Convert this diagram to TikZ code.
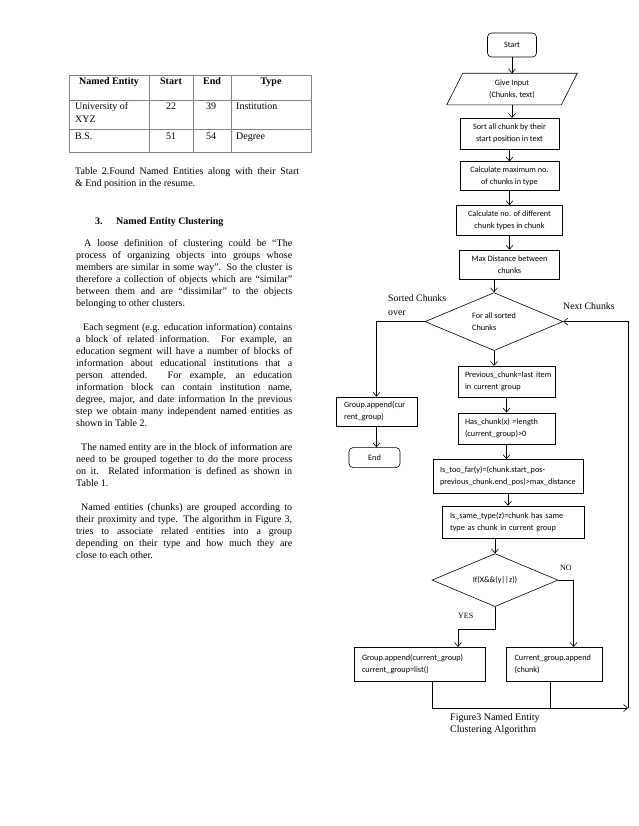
\documentclass[tikz,border=0pt]{standalone}
\usepackage{fontspec}
\setmainfont{Liberation Serif}
\newfontfamily\chartfont{Carlito}
\usetikzlibrary{positioning,shapes.geometric,arrows.meta}
\newcommand{\rulecol}{black!50}
\newcommand{\chartsize}{\fontsize{8.2}{12}\selectfont}

\begin{document}
\begin{tikzpicture}[x=1pt,y=-1pt,
    box/.style={draw, rectangle, line width=0.6pt, inner sep=0pt, font=\chartfont\chartsize, align=center},
    lbox/.style={box, align=left, inner xsep=7pt, inner ysep=0pt},
    term/.style={box, rounded corners=4pt},
    decision/.style={draw, diamond, line width=0.6pt, inner sep=0pt, aspect=2.4, font=\chartfont\chartsize, align=center},
    arr/.style={line width=0.6pt, -{Straight Barb[length=4pt,width=7pt]}},
    tag/.style={inner sep=0pt, anchor=base west, font=\fontsize{8}{10}\selectfont},
    lbl/.style={inner sep=0pt, anchor=base west, align=left, font=\fontsize{9.8}{14}\selectfont},
    cell/.style={inner sep=0pt, anchor=base, font=\fontsize{10}{12}\selectfont},
    head/.style={cell, font=\fontsize{10}{12}\selectfont\bfseries},
    para/.style={inner sep=0pt, anchor=base west, align=justify, font=\fontsize{10}{12}\selectfont}]

\useasboundingbox (0,0) rectangle (638,826);

% table 2
\draw[draw=\rulecol, line width=0.8pt] (69,75) rectangle (311,152);
\draw[draw=\rulecol, line width=0.8pt] (69,100) -- (311,100) (69,129) -- (311,129);
\foreach \cx in {149,193,231}
  \draw[draw=\rulecol, line width=0.8pt] (\cx,75) -- (\cx,152);

\node[head] (hname) at (109,85) {Named Entity};
\node[head] (hstart) at (171,85) {Start};
\node[head] (hend) at (212,85) {End};
\node[head] (htype) at (271,85) {Type};
\node[cell, anchor=base west] (uni) at (75,110) {University of};
\node[cell, anchor=base west] (xyz) at (75,122.5) {XYZ};
\node[cell] (s1) at (171,110) {22};
\node[cell] (e1) at (211,110) {39};
\node[cell, anchor=base west] (t1) at (236,110) {Institution};
\node[cell, anchor=base west] (bs) at (75,140) {B.S.};
\node[cell] (s2) at (171,140) {51};
\node[cell] (e2) at (211,140) {54};
\node[cell, anchor=base west] (t2) at (236,140) {Degree};

\node[para, text width=224pt] (tabcap) at (75,175)
  {Table 2.Found Named Entities along with their Start\linebreak
   \& End position in the resume.};

% section 3
\node[head, anchor=base west] (secno) at (95,224.5) {3.};
\node[head, anchor=base west] (sectitle) at (116,224.5) {Named Entity Clustering};

\node[para, text width=216pt] (body) at (76,246) {%
\hspace*{8pt}A loose definition of clustering could be “The\linebreak
process of organizing objects into groups whose\linebreak
members are similar in some way”. So the cluster is\linebreak
therefore a collection of objects which are “similar”\linebreak
between them and are “dissimilar” to the objects\linebreak
belonging to other clusters.\par\vspace{12pt}
\hspace*{7pt}Each segment (e.g. education information) contains\linebreak
a block of related information.  For example, an\linebreak
education segment will have a number of blocks of\linebreak
information about educational institutions that a\linebreak
person attended.  For example, an education\linebreak
information block can contain institution name,\linebreak
degree, major, and date information In  the previous\linebreak
step we obtain many independent named entities as\linebreak
shown in  Table 2.\par\vspace{12pt}
\hspace*{5pt}The named entity are in the block of information are\linebreak
need to be grouped together to do the more process\linebreak
on it. Related information is defined as shown in\linebreak
Table 1.\par\vspace{12pt}
\hspace*{5pt}Named entities (chunks) are grouped according to\linebreak
their proximity and type. The algorithm  in  Figure 3,\linebreak
tries to  associate related  entities  into  a group\linebreak
depending  on  their type and how much they are\linebreak
close to each other.};

% figure 3
\node[term, minimum width=49pt, minimum height=24pt] (start) at (512,45) {Start};
\node[box, draw=none, minimum width=114pt, minimum height=31pt, below=16pt of start] (input) {Give Input\\(Chunks, text)};
\draw[line width=0.6pt] ([xshift=8pt]input.north west) -- ([xshift=8pt]input.north east)
  -- ([xshift=-8pt]input.south east) -- ([xshift=-8pt]input.south west) -- cycle;
\node[box, minimum width=99pt, minimum height=31pt, below=13pt of input, xshift=-2.5pt] (sort) {Sort all chunk by their\\start position in text};
\node[box, minimum width=99pt, minimum height=29pt, below=12pt of sort] (calcmax) {Calculate maximum no.\\of chunks in type};
\node[box, minimum width=106pt, minimum height=30pt, below=14pt of calcmax] (calctypes) {Calculate no. of different\\chunk types in chunk};
\node[box, minimum width=100pt, minimum height=29pt, below=14pt of calctypes] (maxdist) {Max Distance between\\chunks};
\node[decision, minimum width=138pt, minimum height=58pt, below=13pt of maxdist, xshift=-15.5pt, align=left] (loop) {For all sorted\\Chunks};
\node[lbox, text width=83pt, minimum height=31pt, below=15pt of loop, xshift=12.5pt] (prev) {Previous\_chunk=last~item\\in current group};
\node[lbox, text width=83pt, minimum height=31pt, below=15pt of prev] (hasx) {Has\_chunk(x) =length\\(current\_group)>0};
\node[lbox, text width=136pt, minimum height=34pt, below=15pt of hasx, xshift=1.5pt] (toofar) {Is\_too\_far(y)=(chunk.start\_pos-\\previous\_chunk.end\_pos)>max\_distance};
\node[lbox, inner xsep=8pt, text width=126pt, minimum height=32pt, below=12pt of toofar, xshift=5pt] (sametype) {Is\_same\_type(z)=chunk has same\\type as chunk in current group};
\node[decision, minimum width=126pt, minimum height=53pt, below=15pt of sametype, xshift=-18pt] (decide) {If(X\&\&(y||z))};
\node[lbox, inner xsep=8pt, text width=115pt, minimum height=34pt, below=40pt of decide, xshift=-75.5pt] (grpclose) {Group.append(current\_group)\\current\_group=list()};
\node[lbox, inner xsep=8pt, text width=80pt, minimum height=34pt, right=21pt of grpclose] (grpadd) {Current\_group.append\\(chunk)};
\node[lbox, inner xsep=8pt, text width=65pt, minimum height=29pt] (flush) at (376.5,411.5) {Group.append(cur\\rent\_group)};
\node[term, minimum width=51pt, minimum height=20pt, below=21pt of flush, xshift=-2pt] (end) {End};
\coordinate (rail) at (628,708);

\draw[arr] (start) -- (input);
\draw[arr] (input.south) -- (input.south |- sort.north);
\draw[arr] (sort) -- (calcmax);
\draw[arr] (calcmax) -- (calctypes);
\draw[arr] (calctypes) -- (maxdist);
\draw[arr] (maxdist.south -| loop.north) -- (loop.north);
\draw[arr] (loop.south) -- (loop.south |- prev.north);
\draw[arr] (prev) -- (hasx);
\draw[arr] (hasx.south) -- (hasx.south |- toofar.north);
\draw[arr] (toofar.south) -- (toofar.south |- sametype.north);
\draw[arr] (sametype.south -| decide.north) -- (decide.north);
\draw[arr] (decide.east) -| ([xshift=19pt]grpadd.north);
\draw[arr] (decide.south) -- ++(0,22) -| ([xshift=38.5pt]grpclose.north);
\draw[arr] (loop.west) -| (flush.north);
\draw[arr] (flush.south) -- (flush.south |- end.north);
\draw[arr] ([xshift=12.5pt]grpclose.south) |- (rail);
\draw[line width=0.6pt] ([xshift=-4pt]grpadd.south) -- ([xshift=-4pt]grpadd.south |- rail);
\draw[arr] (rail) |- (loop.east);

% labels (base is the last line)
\node[lbl] (overlbl) at (388,315) {Sorted Chunks\\over};
\node[lbl] (nextlbl) at (563,309) {Next Chunks};
\node[tag] (nolbl) at (560,570) {NO};
\node[tag] (yeslbl) at (458,618) {YES};
\node[lbl, font=\fontsize{10}{12}\selectfont] (figcap) at (450,732.5) {Figure3 Named Entity\\Clustering Algorithm};
\end{tikzpicture}
\end{document}
